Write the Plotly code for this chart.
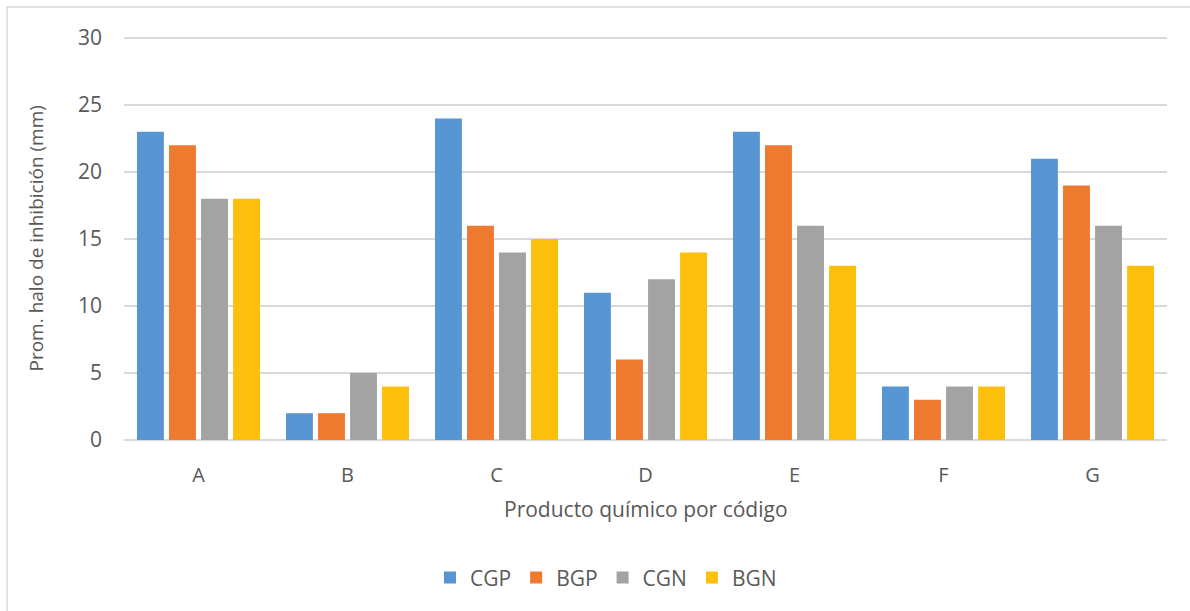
import plotly.graph_objects as go

# Producto químico (categorías) y halo de inhibición promedio por cepa
codigos = ["A", "B", "C", "D", "E", "F", "G"]
cgp = [23, 2, 24, 11, 23, 4, 21]
bgp = [22, 2, 16, 6, 22, 3, 19]
cgn = [18, 5, 14, 12, 16, 4, 16]
bgn = [18, 4, 15, 14, 13, 4, 13]

series = [
    ("CGP", cgp, "#5796d3"),
    ("BGP", bgp, "#ee7a2f"),
    ("CGN", cgn, "#a3a3a3"),
    ("BGN", bgn, "#fbbf0c"),
]

font_family = "Open Sans, Liberation Sans, sans-serif"
text_color = "#595959"

fig = go.Figure()
for name, vals, color in series:
    fig.add_trace(go.Bar(
        x=codigos, y=vals, name=name,
        marker=dict(color=color, line=dict(width=0)),
    ))

fig.update_layout(
    width=1190, height=611,
    margin=dict(l=124, r=23, t=37, b=171),
    paper_bgcolor="white", plot_bgcolor="white",
    barmode="group", bargap=0.14, bargroupgap=0.16,
    font=dict(family=font_family, color=text_color, size=20),
    showlegend=True,
    legend=dict(
        orientation="h", x=(606 - 124) / 1043, xanchor="center",
        y=-0.342, yanchor="middle",
        font=dict(size=21, color=text_color), itemwidth=30, traceorder="normal",
    ),
    xaxis=dict(
        showgrid=False, showline=True, linecolor="#d9d9d9", linewidth=1,
        ticks="", ticklabelstandoff=17,
        tickfont=dict(size=20, color=text_color),
    ),
    yaxis=dict(
        range=[0, 30.08], tickvals=[0, 5, 10, 15, 20, 25, 30],
        showgrid=True, gridcolor="#d9d9d9", gridwidth=1.5,
        zeroline=True, zerolinecolor="#d9d9d9", zerolinewidth=1.5,
        showline=False, ticks="", ticklabelstandoff=21,
        tickfont=dict(size=21, color=text_color),
    ),
    annotations=[
        dict(text="Producto químico por código", xref="paper", yref="paper",
             x=0.5, y=(440 - 509) / 403, xanchor="center", yanchor="middle",
             showarrow=False, font=dict(size=21, color=text_color)),
        dict(text="Prom. halo de inhibición (mm)", xref="paper", yref="paper",
             x=(35 - 124) / 1043, y=0.5, xanchor="center", yanchor="middle",
             textangle=-90, showarrow=False, font=dict(size=19, color=text_color)),
    ],
    shapes=[
        dict(type="rect", xref="paper", yref="paper",
             x0=(7 - 124) / 1043, x1=1.2, y0=-0.6, y1=(440 - 7) / 403,
             line=dict(color="#d9d9d9", width=1.5), fillcolor="rgba(0,0,0,0)",
             layer="below"),
    ],
)

fig.write_html("out.html")
